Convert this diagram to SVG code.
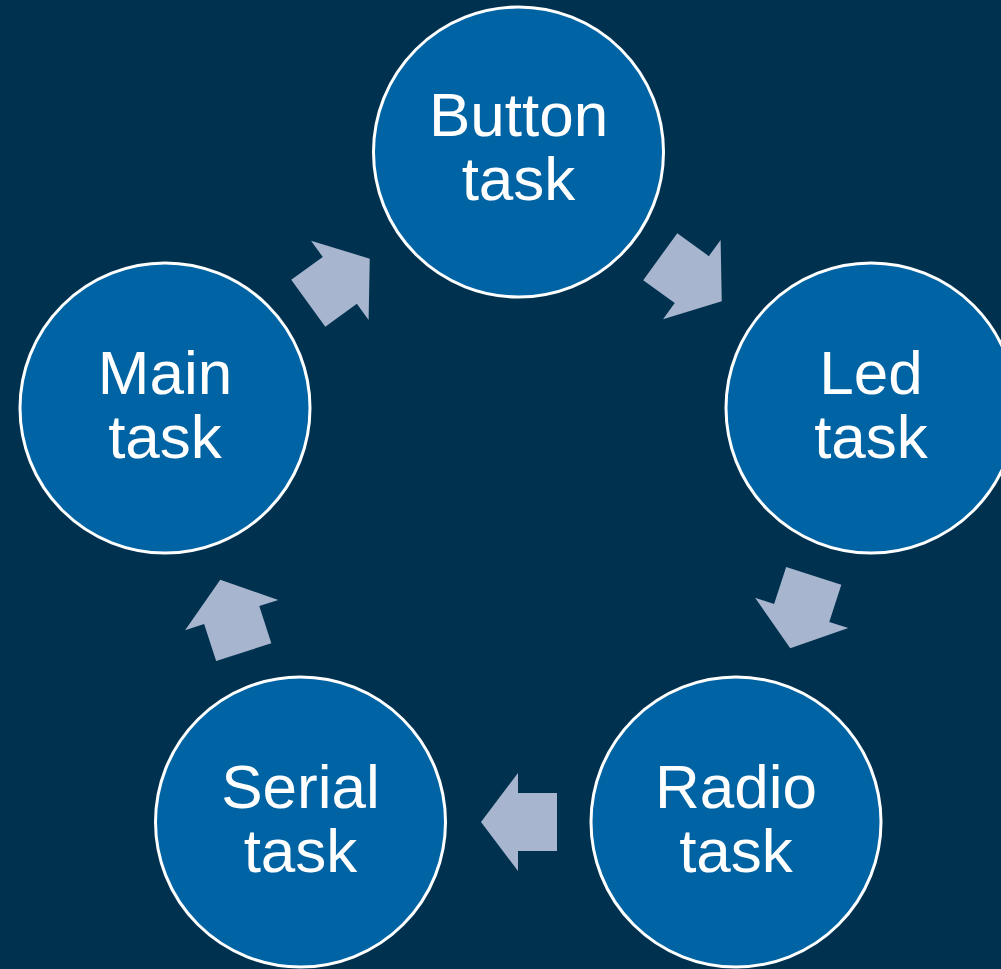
<svg xmlns="http://www.w3.org/2000/svg" width="1001" height="969" viewBox="0 0 1001 969">
  <defs>
    <style>
      .node { fill: #0063A3; stroke: #FFFFFF; stroke-width: 3; }
      .label { fill: #FFFFFF; font-family: "Liberation Sans", Arial, sans-serif; font-size: 62px; text-anchor: middle; }
      .arrow { fill: #A7B6CE; }
    </style>
    <!-- block arrow pointing along +x, centred on the origin -->
    <polygon id="blockArrow" points="38,0 1,-49 1,-29 -38,-29 -38,29 1,29 1,49"/>
  </defs>

  <rect x="0" y="0" width="1001" height="969" fill="#003250"/>

  <g id="connectors">
    <use href="#blockArrow" class="arrow" transform="translate(339,281) rotate(-36)"/>
    <use href="#blockArrow" class="arrow" transform="translate(691,279) rotate(36)"/>
    <use href="#blockArrow" class="arrow" transform="translate(802,612) rotate(108)"/>
    <use href="#blockArrow" class="arrow" transform="translate(519,822) rotate(180)"/>
    <use href="#blockArrow" class="arrow" transform="translate(232,616) rotate(252)"/>
  </g>

  <g id="button-task">
    <circle class="node" cx="518.5" cy="152" r="145"/>
    <text class="label" x="518.5" y="136">Button</text>
    <text class="label" x="518.5" y="200">task</text>
  </g>

  <g id="led-task">
    <circle class="node" cx="871" cy="408" r="145"/>
    <text class="label" x="871" y="394">Led</text>
    <text class="label" x="871" y="458">task</text>
  </g>

  <g id="radio-task">
    <circle class="node" cx="736" cy="822" r="145"/>
    <text class="label" x="736" y="808">Radio</text>
    <text class="label" x="736" y="872">task</text>
  </g>

  <g id="serial-task">
    <circle class="node" cx="300.5" cy="822" r="145"/>
    <text class="label" x="300.5" y="808">Serial</text>
    <text class="label" x="300.5" y="872">task</text>
  </g>

  <g id="main-task">
    <circle class="node" cx="165" cy="408" r="145"/>
    <text class="label" x="165" y="394">Main</text>
    <text class="label" x="165" y="458">task</text>
  </g>
</svg>
